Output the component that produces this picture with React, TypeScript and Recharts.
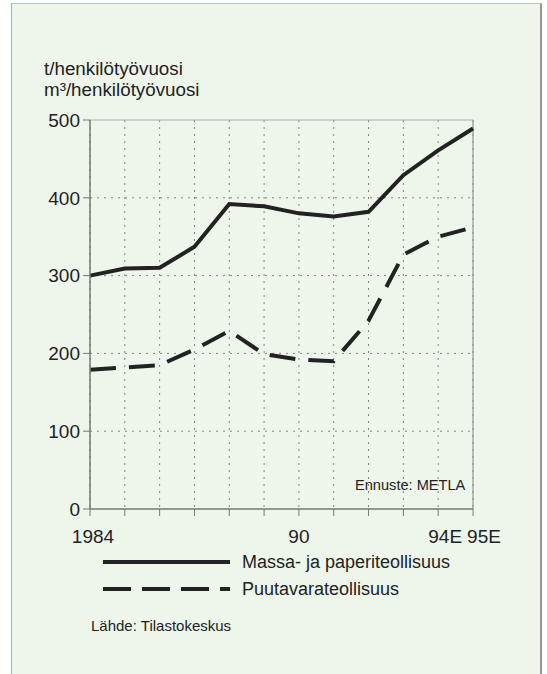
import {
  LineChart, Line, XAxis, YAxis, CartesianGrid, ReferenceLine
} from "recharts";

// vuodet ja sarjat (t tai m3 / henkilötyövuosi)
const vuodet = [1984, 1985, 1986, 1987, 1988, 1989, 1990, 1991, 1992, 1993, 1994, 1995];
const massaJaPaperi = [300, 309, 310, 337, 392, 389, 380, 376, 382, 429, 461, 489];
const puutavara = [179, 182, 185, 205, 229, 199, 192, 190, 242, 327, 350, 362];
const vuosiLabelit = ["1984", "", "", "", "", "", "90", "", "", "", "94E", "95E"];
const yTicks = [0, 100, 200, 300, 400, 500];
const sarjaNimet = ["Massa- ja paperiteollisuus", "Puutavarateollisuus"];

const data = vuodet.map((v, i) => ({
  vuosi: v,
  massa: massaJaPaperi[i],
  puu: puutavara[i],
}));

const FONT = "'Liberation Sans', Arial, Helvetica, sans-serif";
const AXIS = "#6f7d6f";
const INK = "#222";
const DASH = "26 13";

// pieni siirto ettei 94E ja 95E mene päällekkäin
const labelSiirto: Record<string, number> = { "1984": 3, "94E": 7, "95E": 11 };

function VuosiTick(props: any) {
  const { x, y, payload } = props;
  const i = vuodet.indexOf(payload.value);
  const txt = vuosiLabelit[i] || "";
  if (!txt) return null;
  return (
    <text x={x + (labelSiirto[txt] || 0)} y={y} dy="0.71em" textAnchor="middle"
      fill={INK} fontSize={19} fontFamily={FONT}>
      {txt}
    </text>
  );
}

function Selite() {
  return (
    <svg width={547} height={56} style={{ display: "block" }}>
      {sarjaNimet.map((nimi, i) => (
        <g key={nimi}>
          <line x1={103} x2={230} y1={16 + i * 27} y2={16 + i * 27} stroke={INK}
            strokeWidth={4} strokeDasharray={i === 1 ? "28 11" : undefined} />
          <text x={242} y={16 + i * 27} dy="0.35em" fontSize={18} fill={INK} fontFamily={FONT}>
            {nimi}
          </text>
        </g>
      ))}
    </svg>
  );
}

export default function App() {
  return (
    <div style={{ position: "absolute", left: 0, top: 0, width: 547, height: 674, background: "#fff", overflow: "hidden", fontFamily: FONT }}>
      <div style={{
        position: "absolute", left: 11, top: 3, width: 528, height: 700,
        background: "#eef6ec", borderLeft: "1px solid #a9b4a9",
        borderTop: "1px solid #b9c3b9", borderRight: "2px solid #8f998f"
      }} />
      <div style={{ position: "absolute", left: 44, top: 58, fontSize: 18.8, lineHeight: "21px", color: INK }}>
        t/henkilötyövuosi<br />m³/henkilötyövuosi
      </div>
      <div style={{ position: "absolute", left: 91, top: 617, fontSize: 15, color: INK }}>
        Lähde: Tilastokeskus
      </div>
      <div style={{ position: "absolute", left: 355, top: 477, fontSize: 14.6, color: INK }}>
        Ennuste: METLA
      </div>
      <div style={{ position: "absolute", left: 0, top: 546 }}>
        <Selite />
      </div>
      <div style={{ position: "absolute", left: 0, top: 0 }}>
        <LineChart width={547} height={674} data={data}
          margin={{ top: 120, right: 74, bottom: 135, left: 30 }}>
          <CartesianGrid stroke="#7d877d" strokeDasharray="2 5" strokeWidth={1}
            horizontalValues={[100, 200, 300, 400]} />
          <ReferenceLine y={500} stroke="#a3ada3" strokeWidth={1.2} />
          <ReferenceLine x={1995} stroke="#8f998f" strokeWidth={1.2} />
          <XAxis dataKey="vuosi" type="number" domain={[1984, 1995]} ticks={vuodet}
            interval={0} height={30} tick={<VuosiTick />} tickSize={7} tickMargin={14}
            stroke={AXIS} tickLine={{ stroke: AXIS }} axisLine={{ stroke: AXIS, strokeWidth: 1.5 }} />
          <YAxis domain={[0, 500]} ticks={yTicks} width={60} tickSize={7} tickMargin={3}
            tick={{ fill: INK, fontSize: 19, fontFamily: FONT }}
            stroke={AXIS} axisLine={{ stroke: AXIS, strokeWidth: 1.5 }} />
          <Line dataKey="massa" name={sarjaNimet[0]} type="linear" stroke={INK} strokeWidth={4}
            dot={false} isAnimationActive={false} />
          <Line dataKey="puu" name={sarjaNimet[1]} type="linear" stroke={INK} strokeWidth={4}
            strokeDasharray={DASH} dot={false} isAnimationActive={false} />
        </LineChart>
      </div>
    </div>
  );
}
